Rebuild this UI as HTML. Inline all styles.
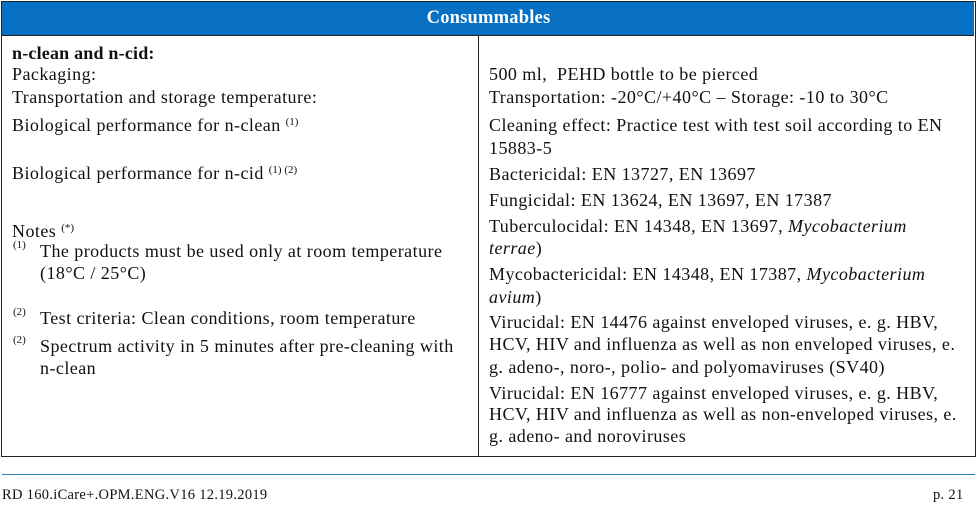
<!DOCTYPE html>
<html><head><meta charset="utf-8"><style>
body{margin:0;width:977px;height:507px;background:#fff;position:relative;overflow:hidden;font-family:"Liberation Serif",serif;color:#111}
.t{position:absolute;font-size:18px;letter-spacing:0.45px;line-height:20px;white-space:nowrap}
sup{font-size:11px;vertical-align:6px;line-height:0;letter-spacing:0}
.s{position:absolute;font-size:11px;line-height:12px}
</style></head><body>
<div style="position:absolute;left:1px;top:1px;width:973px;height:454px;border:1px solid #222"></div>
<div style="position:absolute;left:2px;top:2px;width:972px;height:33px;background:#0870c2;border-bottom:1px solid #222"></div>
<div class="t" style="left:0;width:977px;text-align:center;top:8px;color:#fff;font-weight:bold;font-size:18.5px;letter-spacing:0.2px">Consummables</div>
<div style="position:absolute;left:478px;top:35px;width:1px;height:421px;background:#222"></div>
<div style="position:absolute;left:2px;top:474px;width:973px;height:1px;background:#2a7fc0"></div>
<div class="t" style="left:2px;top:485px;font-size:14.5px;letter-spacing:0.3px">RD 160.iCare+.OPM.ENG.V16 12.19.2019</div>
<div class="t" style="left:933px;top:485px;font-size:14.5px;letter-spacing:0.3px">p. 21</div>

<div class="t" style="left:12px;top:43px;font-weight:bold;letter-spacing:0.2px">n-clean and n-cid:</div>
<div class="t" style="left:12px;top:64px">Packaging:</div>
<div class="t" style="left:12px;top:87px">Transportation and storage temperature:</div>
<div class="t" style="left:12px;top:115px">Biological performance for n-clean <sup>(1)</sup></div>
<div class="t" style="left:12px;top:163px">Biological performance for n-cid <sup>(1) (2)</sup></div>
<div class="t" style="left:12px;top:221px">Notes <sup>(*)</sup></div>
<div class="s" style="left:13px;top:239px">(1)</div>
<div class="t" style="left:40px;top:241px">The products must be used only at room temperature</div>
<div class="t" style="left:40px;top:263px">(18°C / 25°C)</div>
<div class="s" style="left:13px;top:306px">(2)</div>
<div class="t" style="left:40px;top:308px">Test criteria: Clean conditions, room temperature</div>
<div class="s" style="left:13px;top:334px">(2)</div>
<div class="t" style="left:40px;top:336px">Spectrum activity in 5 minutes after pre-cleaning with</div>
<div class="t" style="left:40px;top:358px">n-clean</div>

<div class="t" style="left:489px;top:64px">500 ml,&nbsp; PEHD bottle to be pierced</div>
<div class="t" style="left:489px;top:87px">Transportation: -20°C/+40°C – Storage: -10 to 30°C</div>
<div class="t" style="left:489px;top:115px">Cleaning effect: Practice test with test soil according to EN</div>
<div class="t" style="left:489px;top:138px">15883-5</div>
<div class="t" style="left:489px;top:164px">Bactericidal: EN 13727, EN 13697</div>
<div class="t" style="left:489px;top:190px">Fungicidal: EN 13624, EN 13697, EN 17387</div>
<div class="t" style="left:489px;top:216px">Tuberculocidal: EN 14348, EN 13697, <i>Mycobacterium</i></div>
<div class="t" style="left:489px;top:238px"><i>terrae</i>)</div>
<div class="t" style="left:489px;top:264px">Mycobactericidal: EN 14348, EN 17387, <i>Mycobacterium</i></div>
<div class="t" style="left:489px;top:287px"><i>avium</i>)</div>
<div class="t" style="left:489px;top:312px">Virucidal: EN 14476 against enveloped viruses, e. g. HBV,</div>
<div class="t" style="left:489px;top:334px">HCV, HIV and influenza as well as non enveloped viruses, e.</div>
<div class="t" style="left:489px;top:357px">g. adeno-, noro-, polio- and polyomaviruses (SV40)</div>
<div class="t" style="left:489px;top:383px">Virucidal: EN 16777 against enveloped viruses, e. g. HBV,</div>
<div class="t" style="left:489px;top:404px">HCV, HIV and influenza as well as non-enveloped viruses, e.</div>
<div class="t" style="left:489px;top:426px">g. adeno- and noroviruses</div>
</body></html>
